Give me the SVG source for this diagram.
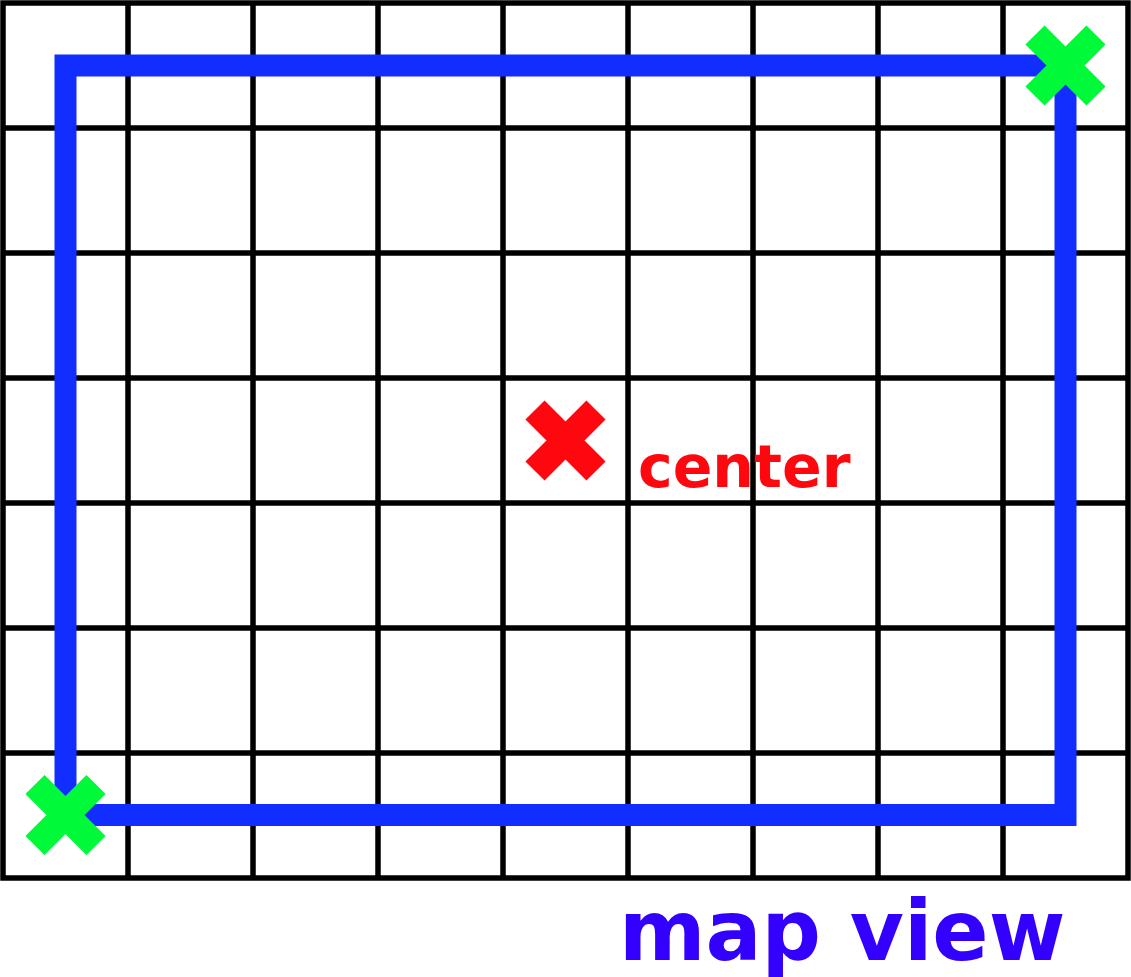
<svg xmlns="http://www.w3.org/2000/svg" width="1131" height="977" viewBox="0 0 1131 977">
<style>
.grid{stroke:#000;stroke-width:5.5;fill:none}
.view{fill:none;stroke:#122eff;stroke-width:22;stroke-linejoin:miter}
.xg{stroke:#00fa3a;stroke-width:27;stroke-linecap:butt;fill:none}
.xr{stroke:#ff070f;stroke-width:27;stroke-linecap:butt;fill:none}
.lbl{font-family:"DejaVu Sans",sans-serif;font-weight:bold}
</style>
<defs>
<path id="cross" d="M-30.5,-30.5 L30.5,30.5 M30.5,-30.5 L-30.5,30.5"/>
</defs>
<rect width="1131" height="977" fill="#fff"/>
<g id="grid" class="grid">
<rect x="3" y="3" width="1125" height="875"/>
<path d="M128,3V878M253,3V878M378,3V878M503,3V878M628,3V878M753,3V878M878,3V878M1003,3V878"/>
<path d="M3,128H1128M3,253H1128M3,378H1128M3,503H1128M3,628H1128M3,753H1128"/>
</g>
<g id="connectors">
<rect id="view-rect" class="view" x="65.5" y="65.5" width="1000" height="749.5"/>
</g>
<g id="corner-tr"><use href="#cross" class="xg" x="1065.5" y="65.5"/></g>
<g id="corner-bl"><use href="#cross" class="xg" x="65.5" y="815"/></g>
<g id="center"><use href="#cross" class="xr" x="565.5" y="440.5"/>
<text class="lbl" x="638" y="487" font-size="58.5" fill="#ff070f">center</text></g>
<g id="title"><text class="lbl" x="619" y="960" font-size="83" fill="#3300ff">map view</text></g>
</svg>
